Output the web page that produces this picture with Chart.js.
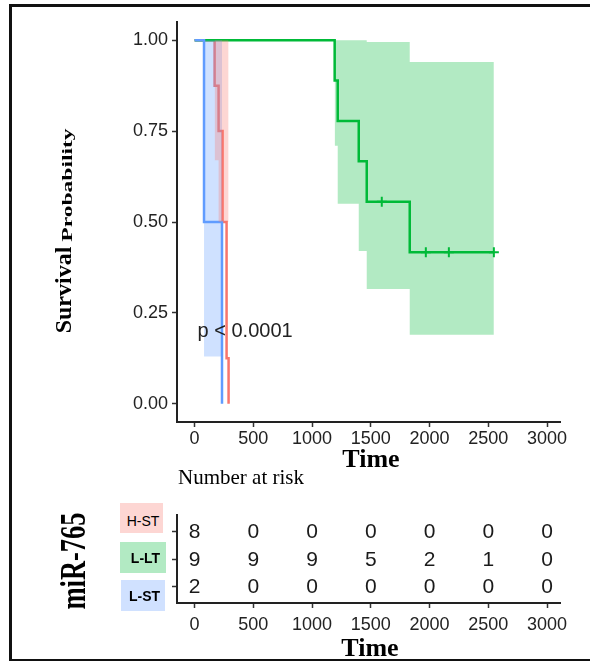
<!DOCTYPE html>
<html>
<head>
<meta charset="utf-8">
<script src="https://cdn.jsdelivr.net/npm/chart.js@4.4.1/dist/chart.umd.min.js"></script>
<style>
  html, body { margin: 0; padding: 0; background: #fff; }
  #page { position: relative; width: 590px; height: 662px; overflow: hidden; background: #fff; }
  #frame { position: absolute; left: 9px; top: 4px; width: 640px; height: 652px;
           border-left: 3px solid #111; border-top: 3px solid #111; border-bottom: 2px solid #111; }
  canvas { position: absolute; left: 0; }
  .serif { position: absolute; font-family: "Liberation Serif", "Times New Roman", serif; color: #000; white-space: nowrap; }
  .grp { position: absolute; box-sizing: border-box; font-family: "Liberation Sans", Arial, sans-serif; font-size: 14px;
         color: #000; display: flex; align-items: center; justify-content: center; }
</style>
</head>
<body>
<div id="page">
  <div id="frame"></div>
  <canvas id="km" width="590" height="450" style="top:0"></canvas>
  <canvas id="risk" width="590" height="167" style="top:495px"></canvas>

  <div class="serif" style="left:63px;top:290px;font-size:24px;line-height:24px;font-weight:bold;transform:translate(-50%,-50%) rotate(-90deg)">Survival</div>
  <div class="serif" style="left:68px;top:185px;font-size:14px;line-height:14px;font-weight:bold;transform:translate(-50%,-50%) rotate(-90deg) scaleX(1.68)">Probability</div>
  <div class="serif" style="left:371px;top:446px;font-size:26px;line-height:26px;font-weight:bold;transform:translateX(-50%)">Time</div>
  <div class="serif" style="left:178px;top:467px;font-size:21px;line-height:21px">Number at risk</div>
  <div class="serif" style="left:73px;top:561px;font-size:36px;line-height:36px;font-weight:bold;transform:translate(-50%,-50%) rotate(-90deg) scaleX(0.735)">miR-765</div>
  <div class="serif" style="left:370px;top:635px;font-size:26px;line-height:26px;font-weight:bold;transform:translateX(-50%)">Time</div>

  <div class="grp" style="left:120px;top:503px;width:43px;height:30px;background:#fdd6d3;padding:5px 0 0 3px">H-ST</div>
  <div class="grp" style="left:120px;top:542px;width:46px;height:31px;background:#b2eac3;font-weight:bold;padding-left:5px">L-LT</div>
  <div class="grp" style="left:121px;top:580px;width:44px;height:31px;background:#d0e1ff;font-weight:bold;padding-left:3px">L-ST</div>
</div>

<script>
// axis ticks
var xTicks = [0, 500, 1000, 1500, 2000, 2500, 3000];
var yTicks = [0, 0.25, 0.5, 0.75, 1];

// KM curves: survival value holds from times[i] to times[i+1]
var hstTimes = [0, 170, 204, 238, 272, 289];
var hstSurv  = [1, 0.875, 0.75, 0.5, 0.125, 0];
var lltTimes = [0, 1192, 1218, 1397, 1465, 1831, 2547];
var lltSurv  = [1, 0.889, 0.778, 0.667, 0.556, 0.417, 0.417];
var lstTimes = [0, 80, 233];
var lstSurv  = [1, 0.5, 0];

// censored points (L-LT only)
var lltCensorTimes = [1593, 1968, 2164, 2547];
var lltCensorSurv  = [0.556, 0.417, 0.417, 0.417];

// confidence bands, one value per interval between band times
var hstBandTimes = [170, 204, 289];
var hstBandUpper = [1, 1];
var hstBandLower = [0.67, 0.5];
var lltBandTimes = [1192, 1218, 1397, 1465, 1831, 2547];
var lltBandUpper = [1, 1, 1, 0.995, 0.94];
var lltBandLower = [0.71, 0.55, 0.42, 0.316, 0.19];
var lstBandTimes = [80, 233];
var lstBandUpper = [1];
var lstBandLower = [0.13];

var pvalText = 'p < 0.0001';
var pvalX = 25, pvalY = 0.2;

// number at risk table
var riskTimes = [0, 500, 1000, 1500, 2000, 2500, 3000];
var riskHST = [8, 0, 0, 0, 0, 0, 0];
var riskLLT = [9, 9, 9, 5, 2, 1, 0];
var riskLST = [2, 0, 0, 0, 0, 0, 0];

var RED = '#F8766D', GREEN = '#00BA38', BLUE = '#619CFF';
var sans = '"Liberation Sans", Arial, sans-serif';

function stepPoints(times, vals) {
    var pts = [];
    for (var i = 0; i < times.length; i++) {
        pts.push({x: times[i], y: vals[i]});
        if (i + 1 < times.length) pts.push({x: times[i + 1], y: vals[i]});
    }
    return pts;
}
function bandPoints(times, vals) {
    var pts = [];
    for (var i = 0; i < vals.length; i++) {
        pts.push({x: times[i], y: vals[i]});
        pts.push({x: times[i + 1], y: vals[i]});
    }
    return pts;
}
function kmLine(times, vals, color, order) {
    return {data: stepPoints(times, vals), showLine: true, borderColor: color, borderWidth: 2.5,
            pointRadius: 0, fill: false, order: order};
}
function band(times, upper, lower, rgba) {
    return [
        {data: bandPoints(times, upper), showLine: true, borderColor: 'rgba(0,0,0,0)', backgroundColor: rgba,
         pointRadius: 0, fill: '+1', order: 10},
        {data: bandPoints(times, lower), showLine: true, borderColor: 'rgba(0,0,0,0)',
         pointRadius: 0, fill: false, order: 10}
    ];
}

function axisStyle() {
    return {
        grid: {drawOnChartArea: false, drawTicks: true, tickLength: 5, tickWidth: 1.5, tickColor: '#333'},
        border: {display: true, color: '#222', width: 2}
    };
}
function plainLabel(v) { return String(v); }

var pvalPlugin = {
    id: 'pval',
    afterDatasetsDraw: function(chart) {
        var c = chart.ctx;
        c.save();
        c.font = '20px ' + sans;
        c.fillStyle = '#222';
        c.textAlign = 'left';
        c.textBaseline = 'middle';
        c.fillText(pvalText, chart.scales.x.getPixelForValue(pvalX), chart.scales.y.getPixelForValue(pvalY));
        c.restore();
    }
};

var kmX = axisStyle();
kmX.min = -150; kmX.max = 3110;
kmX.afterBuildTicks = function(s) { s.ticks = xTicks.map(function(v) { return {value: v}; }); };
kmX.afterFit = function(s) { s.height = 28; };
kmX.ticks = {color: '#222', font: {family: sans, size: 18}, padding: 1, maxRotation: 0, callback: plainLabel};

var kmY = axisStyle();
kmY.min = -0.05; kmY.max = 1.05;
kmY.afterBuildTicks = function(s) { s.ticks = yTicks.map(function(v) { return {value: v}; }); };
kmY.afterFit = function(s) { s.width = 177; };
kmY.ticks = {color: '#222', font: {family: sans, size: 18}, padding: 4,
             callback: function(v) { return Number(v).toFixed(2); }};

var kmData = [].concat(
    band(hstBandTimes, hstBandUpper, hstBandLower, 'rgba(248,118,109,0.3)'),
    band(lltBandTimes, lltBandUpper, lltBandLower, 'rgba(0,186,56,0.3)'),
    band(lstBandTimes, lstBandUpper, lstBandLower, 'rgba(97,156,255,0.3)'),
    [kmLine(hstTimes, hstSurv, RED, 30),
     kmLine(lltTimes, lltSurv, GREEN, 29),
     kmLine(lstTimes, lstSurv, BLUE, 28),
     {data: lltCensorTimes.map(function(t, i) { return {x: t, y: lltCensorSurv[i]}; }),
      showLine: false, pointStyle: 'cross', pointRadius: 5, borderWidth: 2, borderColor: GREEN, order: 1}]
);

var kmChart = new Chart(document.getElementById('km').getContext('2d'), {
    type: 'scatter',
    data: {datasets: kmData},
    options: {
        responsive: false, animation: false, devicePixelRatio: 1,
        layout: {padding: {top: 22, right: 30, left: 0, bottom: 0}},
        plugins: {legend: {display: false}, tooltip: {enabled: false}},
        scales: {x: kmX, y: kmY}
    },
    plugins: [pvalPlugin]
});

// risk table: rows H-ST=3, L-LT=2, L-ST=1
var riskRows = [{y: 3, counts: riskHST}, {y: 2, counts: riskLLT}, {y: 1, counts: riskLST}];

var riskPlugin = {
    id: 'riskText',
    afterDatasetsDraw: function(chart) {
        var c = chart.ctx;
        c.save();
        c.font = '21px ' + sans;
        c.fillStyle = '#1a1a1a';
        c.textAlign = 'center';
        c.textBaseline = 'middle';
        chart.data.datasets.forEach(function(ds, di) {
            chart.getDatasetMeta(di).data.forEach(function(pt, i) {
                c.fillText(String(ds.counts[i]), pt.x, pt.y + 1);
            });
        });
        c.restore();
    }
};

var riskX = axisStyle();
riskX.min = -150; riskX.max = 3110;
riskX.afterBuildTicks = function(s) { s.ticks = xTicks.map(function(v) { return {value: v}; }); };
riskX.afterFit = function(s) { s.height = 59; };
riskX.ticks = {color: '#222', font: {family: sans, size: 18}, padding: 6, maxRotation: 0, callback: plainLabel};

var riskY = axisStyle();
riskY.min = 0.4; riskY.max = 3.6;
riskY.afterBuildTicks = function(s) { s.ticks = [1, 2, 3].map(function(v) { return {value: v}; }); };
riskY.afterFit = function(s) { s.width = 177; };
riskY.ticks = {callback: function() { return ''; }};

var riskChart = new Chart(document.getElementById('risk').getContext('2d'), {
    type: 'scatter',
    data: {
        datasets: riskRows.map(function(r) {
            return {data: riskTimes.map(function(t) { return {x: t, y: r.y}; }), counts: r.counts, pointRadius: 0};
        })
    },
    options: {
        responsive: false, animation: false, devicePixelRatio: 1,
        layout: {padding: {top: 20, right: 30, left: 0, bottom: 0}},
        plugins: {legend: {display: false}, tooltip: {enabled: false}},
        scales: {x: riskX, y: riskY}
    },
    plugins: [riskPlugin]
});
</script>
</body>
</html>
